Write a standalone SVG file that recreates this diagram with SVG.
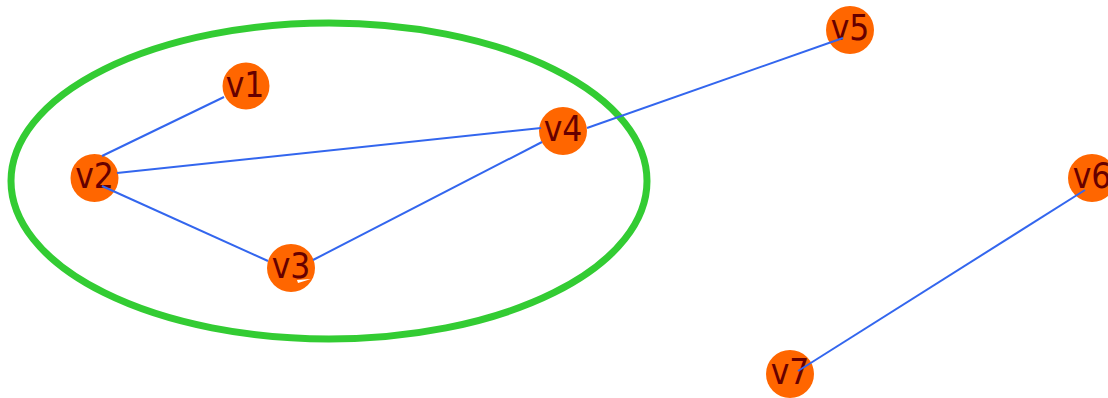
<svg xmlns="http://www.w3.org/2000/svg" width="1108" height="398" viewBox="0 0 1108 398">
<style>
.node circle{fill:#ff6600;}
.node text{font-family:"DejaVu Sans Condensed","DejaVu Sans",sans-serif;font-size:35px;fill:#660000;text-anchor:middle;}
.edge{stroke:#3366ee;stroke-width:2;fill:none;}
</style>
<rect width="1108" height="398" fill="#ffffff"/>
<ellipse id="group" cx="329" cy="181" rx="318" ry="158" fill="none" stroke="#33cc33" stroke-width="7"/>
<g id="v1" class="node"><circle cx="246" cy="86" r="23.5"/><text x="245" y="97">v1</text></g>
<g id="v2" class="node"><circle cx="94.5" cy="178" r="24"/><text x="94.5" y="188">v2</text></g>
<g id="v3" class="node"><circle cx="291" cy="268" r="24"/><text x="291" y="278">v3</text></g>
<g id="v4" class="node"><circle cx="563" cy="131" r="24"/><text x="563" y="141">v4</text></g>
<g id="v5" class="node"><circle cx="850" cy="30" r="24"/><text x="850" y="40">v5</text></g>
<g id="v6" class="node"><circle cx="1092" cy="178" r="24"/><text x="1092" y="188">v6</text></g>
<g id="v7" class="node"><circle cx="790" cy="374" r="24"/><text x="790" y="384">v7</text></g>
<g id="connectors">
<line class="edge" x1="102" y1="156" x2="224" y2="97"/>
<line class="edge" x1="117" y1="173" x2="541" y2="128"/>
<line class="edge" x1="102" y1="186" x2="268" y2="261"/>
<line class="edge" x1="313" y1="260" x2="542" y2="142"/>
<line class="edge" x1="587" y1="128" x2="843" y2="38"/>
<line class="edge" x1="798" y1="371" x2="1085" y2="190"/>
<path d="M297 280 L311 279 L298 283 Z" fill="#ffffff"/>
</g>
</svg>
